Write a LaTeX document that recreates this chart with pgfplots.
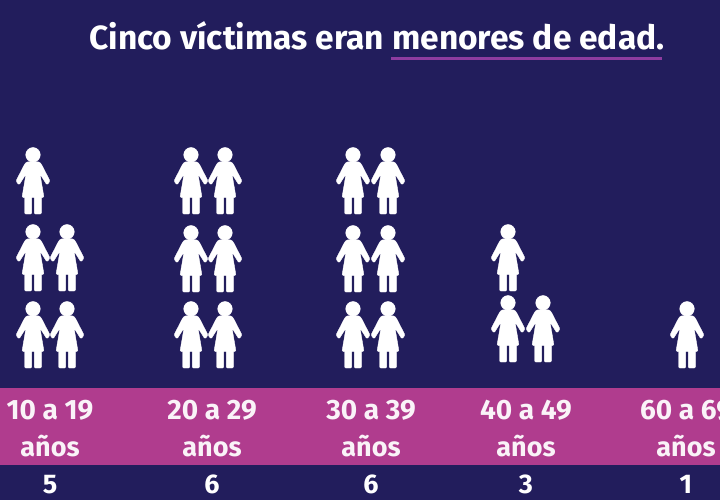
\documentclass[border=0pt]{standalone}
\usepackage{pgfplots}
\pgfplotsset{compat=1.18}
\usepackage{fontspec}
\setmainfont{Fira Sans}
\definecolor{bg}{RGB}{34,29,92}
\definecolor{band}{RGB}{176,60,142}
\definecolor{rule}{RGB}{142,60,160}
\pgfdeclareplotmark{woman}{%
  \fill[white] (0,26.2pt) circle (7.3pt);
  \fill[white,rounded corners=1.2pt]
    (0,19.5pt) -- (6.5pt,19pt) -- (8.5pt,16.5pt) -- (17pt,0pt) -- (14pt,-4pt) -- (7pt,7pt)
    -- (11pt,-16.5pt) -- (-11pt,-16.5pt)
    -- (-7pt,7pt) -- (-14pt,-4pt) -- (-17pt,0pt) -- (-8.5pt,16.5pt) -- (-6.5pt,19pt) -- cycle;
  \fill[white,rounded corners=1pt] (1.4pt,-14pt) rectangle (8.3pt,-33pt);
  \fill[white,rounded corners=1pt] (-1.4pt,-14pt) rectangle (-8.3pt,-33pt);
}
\begin{document}
\begin{tikzpicture}
\path[use as bounding box] (0,0) rectangle (720pt,500pt);
\clip (0,0) rectangle (720pt,500pt);
\begin{axis}[
  scale only axis, width=720pt, height=500pt,
  xmin=0, xmax=720, ymin=0, ymax=500, y dir=reverse,
  hide axis, clip=false]
\fill[bg] (axis cs:0,0) rectangle (axis cs:720,500);
\fill[band] (axis cs:0,387.5) rectangle (axis cs:720,464.5);
\fill[rule] (axis cs:391,57.5) rectangle (axis cs:662,60.5);
\addplot[only marks, mark=woman] table {
x y
33 181
33 258
67 258
33 335
67 335
191 181
225 181
191 259
225 259
191 335
225 335
353 181
388 181
353 259
388 259
353 335
388 335
508 258
508 329
543 329
687 335
};
\node[anchor=base,white,font=\bfseries\fontsize{33.5}{33.5}\selectfont] at (axis cs:377,50) {Cinco víctimas eran menores de edad.};
\foreach \x/\t/\n in {50/10 a 19/5,212/20 a 29/6,371/30 a 39/6,526/40 a 49/3,686/60 a 69/1}{
  \edef\temp{\noexpand\node[anchor=base,text=white!94!band,font=\noexpand\bfseries\noexpand\fontsize{28}{28}\noexpand\selectfont] at (axis cs:\x,419) {\t};
  \noexpand\node[anchor=base,text=white!94!band,font=\noexpand\bfseries\noexpand\fontsize{27}{27}\noexpand\selectfont] at (axis cs:\x,456) {años};
  \noexpand\node[anchor=base,text=white,font=\noexpand\bfseries\noexpand\fontsize{27}{27}\noexpand\selectfont] at (axis cs:\x,493) {\n};}
  \temp
}
\end{axis}
\end{tikzpicture}
\end{document}
